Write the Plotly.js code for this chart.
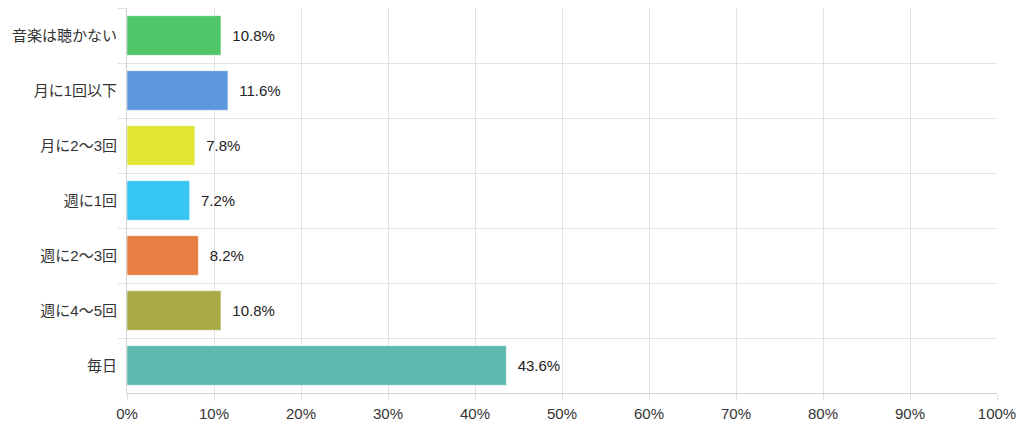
<!DOCTYPE html>
<html><head><meta charset="utf-8">
<script src="https://cdn.plot.ly/plotly-3.0.1.min.js"></script>
<style>html,body{margin:0;padding:0;background:#fff}#c{width:1024px;height:427px}</style>
</head><body><div id="c"></div>
<script>
const categories = ["音楽は聴かない","月に1回以下","月に2〜3回","週に1回","週に2〜3回","週に4〜5回","毎日"];
const values = [10.8, 11.6, 7.8, 7.2, 8.2, 10.8, 43.6];
const barColors = ["#4fc669","#5d97dc","#e1e634","#37c6f1","#e67f41","#a8aa48","#5db9ae"];
const xTickVals = [0,10,20,30,40,50,60,70,80,90,100];

const font = '"Liberation Sans", Arial, "Noto Sans CJK JP", sans-serif';
Plotly.newPlot('c', [{
  type: 'bar', orientation: 'h',
  x: values, y: categories,
  marker: {color: barColors, line: {color: 'rgba(255,255,255,0.5)', width: 1}},
  text: values.map(v => '\u00a0\u00a0' + v.toFixed(1) + '%'),
  textposition: 'outside', cliponaxis: false,
  textfont: {family: font, size: 15, color: '#222'},
  hoverinfo: 'none'
}], {
  width: 1024, height: 427,
  margin: {l: 127, r: 27, t: 8, b: 34},
  paper_bgcolor: '#fff', plot_bgcolor: '#fff',
  bargap: 0.28,
  showlegend: false,
  xaxis: {range: [0, 100], tickvals: xTickVals, ticktext: xTickVals.map(v => v + '%'),
    showgrid: true, gridcolor: '#e2e2e2', zeroline: false,
    showline: true, linecolor: '#d0d0d0', mirror: false,
    ticks: 'outside', ticklen: 7, tickcolor: '#e2e2e2',
    tickfont: {family: font, size: 15, color: '#333'}, fixedrange: true},
  yaxis: {autorange: 'reversed', type: 'category', tickson: 'boundaries',
    showgrid: true, gridcolor: '#e2e2e2', zeroline: false,
    showline: true, linecolor: '#d0d0d0',
    ticks: 'outside', ticklen: 8, tickcolor: '#e2e2e2', ticklabelstandoff: 6,
    tickfont: {family: font, size: 15, color: '#333'}, fixedrange: true}
}, {displayModeBar: false, staticPlot: true});
</script></body></html>
